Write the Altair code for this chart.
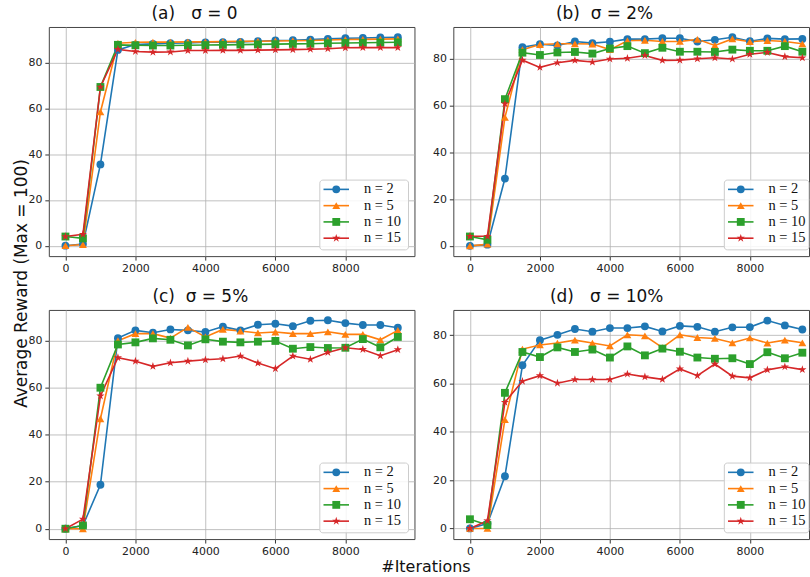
import altair as alt
import pandas as pd

iterations = list(range(0, 10000, 500))
series = ["n = 2", "n = 5", "n = 10", "n = 15"]
colors = ["#1f77b4", "#ff7f0e", "#2ca02c", "#d62728"]

a_n2 = [0, 0.7, 35.5, 85.5, 87.8, 88.1, 88.4, 88.5, 88.8, 88.9, 89.0, 89.3, 89.6, 89.7, 90.0, 90.3, 90.6, 90.7, 90.9, 91.0]
a_n5 = [0, 0.5, 58.4, 88.4, 88.8, 88.9, 88.9, 89.0, 89.0, 89.1, 89.2, 89.3, 89.4, 89.5, 89.6, 89.8, 90.0, 90.1, 90.2, 90.3]
a_n10 = [4.0, 3.2, 69.3, 87.7, 87.5, 87.4, 87.4, 87.5, 87.6, 87.7, 87.8, 87.9, 88.0, 88.1, 88.2, 88.4, 88.5, 88.6, 88.7, 88.8]
a_n15 = [4.0, 5.0, 69.3, 85.7, 84.8, 84.5, 84.6, 85.2, 85.2, 85.3, 85.3, 85.4, 85.5, 85.6, 85.8, 86.0, 86.4, 86.5, 86.5, 86.5]

b_n2 = [0, 0.5, 28.8, 85.0, 86.3, 85.8, 87.5, 86.8, 87.4, 88.5, 88.5, 88.9, 88.9, 87.5, 88.2, 89.3, 87.6, 88.8, 88.5, 88.6]
b_n5 = [0, 0.7, 55.0, 84.0, 86.2, 86.5, 86.5, 86.4, 84.0, 87.8, 88.0, 87.5, 87.5, 88.4, 85.8, 88.6, 87.4, 87.9, 87.5, 86.5]
b_n10 = [4.0, 2.6, 62.8, 82.7, 81.7, 82.8, 83.0, 82.3, 84.5, 85.5, 82.5, 84.8, 83.1, 83.1, 83.0, 84.0, 83.5, 83.5, 85.5, 83.1]
b_n15 = [4.1, 4.1, 60.8, 79.5, 76.4, 78.4, 79.4, 78.7, 80.0, 80.3, 81.5, 79.4, 79.5, 80.1, 80.5, 80.0, 82.0, 82.8, 81.0, 80.5]

c_n2 = [0, 1.4, 18.7, 81.1, 84.4, 83.4, 84.8, 84.4, 83.7, 86.0, 84.4, 86.8, 87.2, 86.2, 88.5, 88.7, 87.5, 86.7, 86.7, 85.5]
c_n5 = [0, 0, 46.8, 80.0, 83.0, 83.0, 81.1, 85.7, 81.6, 84.8, 84.1, 83.3, 83.7, 83.0, 83.0, 83.8, 82.7, 82.7, 80.4, 84.4]
c_n10 = [0, 1.4, 60.0, 78.4, 79.3, 81.0, 80.4, 78.0, 80.6, 79.6, 79.3, 79.6, 79.9, 76.6, 77.3, 76.9, 77.0, 80.7, 77.2, 81.6]
c_n15 = [0, 4.1, 56.5, 72.8, 71.3, 69.1, 70.6, 71.3, 71.9, 72.3, 73.5, 70.5, 68.1, 73.5, 72.1, 75.0, 77.0, 76.3, 73.6, 76.2]

d_n2 = [0, 2.0, 21.6, 67.5, 77.9, 80.1, 82.5, 81.4, 82.9, 82.9, 83.6, 81.5, 83.8, 83.4, 81.4, 83.2, 83.3, 86.0, 84.0, 82.3]
d_n5 = [0, 0, 45.0, 74.2, 75.9, 76.7, 77.9, 76.7, 75.5, 80.1, 79.7, 74.8, 80.1, 79.0, 78.6, 76.8, 78.8, 76.7, 77.9, 76.8]
d_n10 = [3.8, 1.4, 56.1, 73.0, 70.9, 74.9, 73.0, 74.0, 70.7, 75.3, 71.6, 74.4, 73.1, 70.7, 70.2, 70.4, 68.0, 72.9, 70.4, 72.7]
d_n15 = [0, 3.2, 52.2, 60.9, 63.2, 60.1, 61.6, 61.6, 61.6, 63.9, 62.7, 61.7, 66.0, 63.2, 68.0, 63.0, 62.3, 65.6, 66.9, 65.7]

x_ticks = [0, 2000, 4000, 6000, 8000]
y_ticks = [0, 20, 40, 60, 80]

STAR = ("M0,-1.1L0.246,-0.338L1.046,-0.34L0.398,0.129L0.647,0.89L0,0.418"
        "L-0.647,0.89L-0.398,0.129L-1.046,-0.34L-0.246,-0.338Z")
marker_shapes = ["circle", "triangle-up", "square", STAR]

legend_df = pd.DataFrame({"n": series, "idx": [0, 1, 2, 3]})
box_df = pd.DataFrame({"k": [0]})

NB = "\u00a0"


def panel(title, dx, vals, ydom, width, xmax, box_right, ytitle=None, xtitle=None):
    rows = []
    for s, arr in zip(series, vals):
        for it, v in zip(iterations, arr):
            rows.append({"iter": it, "n": s, "reward": v})
    df = pd.DataFrame(rows)

    xaxis_kw = dict(values=x_ticks, format="d", title=None, labelFontSize=11, labelFont="DejaVu Sans",
                    labelColor="#222", tickColor="#333", tickSize=4, labelPadding=2,
                    gridColor="#b0b0b0", gridWidth=0.8, domain=False)
    if xtitle:
        xaxis_kw.update(title=xtitle, titleX=378, titleY=28, titleBaseline="middle",
                        titleAlign="center", titleFontSize=16, titleFontWeight="normal",
                        titleFont="DejaVu Sans", titleColor="#111")
    yaxis_kw = dict(values=y_ticks, title=None, labelFontSize=11, labelFont="DejaVu Sans",
                    labelColor="#222", tickColor="#333", tickSize=4, labelPadding=3,
                    gridColor="#b0b0b0", gridWidth=0.8, domain=False)
    if ytitle:
        yaxis_kw.update(title=ytitle, titleX=-27, titleY=257, titleAngle=270,
                        titleBaseline="middle", titleAlign="center", titleFontSize=17,
                        titleFontWeight="normal", titleFont="DejaVu Sans", titleColor="#111")

    x = alt.X("iter:Q", scale=alt.Scale(domain=[-475, xmax], nice=False, zero=False),
              axis=alt.Axis(**xaxis_kw))
    y = alt.Y("reward:Q", scale=alt.Scale(domain=ydom, nice=False, zero=False),
              axis=alt.Axis(**yaxis_kw))
    color = alt.Color("n:N", scale=alt.Scale(domain=series, range=colors), legend=None)
    shape = alt.Shape("n:N", scale=alt.Scale(domain=series, range=marker_shapes), legend=None)

    lines = alt.Chart(df).mark_line(strokeWidth=1.6).encode(x=x, y=y, color=color)
    points = alt.Chart(df).mark_point(filled=True, opacity=1, size=62).encode(
        x=x, y=y, color=color, shape=shape)
    data_layer = alt.layer(lines, points)

    # legend (drawn as marks, positioned in pixels inside the panel)
    ly = alt.Y("idx:Q", scale=alt.Scale(domain=[0, 3], range=[163, 212]), axis=None)
    box = alt.Chart(box_df).mark_rect(
        fill="white", fillOpacity=0.85, stroke="#cccccc", strokeWidth=1, cornerRadius=3
    ).encode(x=alt.value(272), x2=alt.value(box_right), y=alt.value(153.7), y2=alt.value(223.7))
    seg = alt.Chart(legend_df).mark_rule(strokeWidth=1.6).encode(
        x=alt.value(275.7), x2=alt.value(301.3), y=ly, color=color)
    mk = alt.Chart(legend_df).mark_point(filled=True, opacity=1, size=62).encode(
        x=alt.value(288.5), y=ly, color=color, shape=shape)
    lab = alt.Chart(legend_df).mark_text(
        align="left", baseline="middle", font="Liberation Serif", fontSize=14.5, color="#111"
    ).encode(x=alt.value(316.3), y=ly, text="n:N")
    legend_layer = alt.layer(box, seg, mk, lab)

    return alt.layer(data_layer, legend_layer).resolve_scale(y="independent").properties(
        width=width, height=230,
        title=alt.Title(title, anchor="start", frame="group", dx=dx, offset=4, fontSize=17,
                        font="DejaVu Sans", fontWeight="normal", color="#111"),
    )


pa = panel("(a)" + NB * 3 + "σ = 0", 103, [a_n2, a_n5, a_n10, a_n15], [-4.55, 95.5], 367, 9975, 361,
           ytitle="Average Reward (Max = 100)")
pb = panel("(b)" + NB * 2 + "σ = 2%", 103, [b_n2, b_n5, b_n10, b_n15], [-4.4, 93.7], 357, 9690, 357)
pc = panel("(c)" + NB * 2 + "σ = 5%", 104, [c_n2, c_n5, c_n10, c_n15], [-4.4, 93.1], 367, 9975, 361,
           xtitle="#Iterations")
pd_ = panel("(d)" + NB * 3 + "σ = 10%", 97, [d_n2, d_n5, d_n10, d_n15], [-4.4, 90.4], 357, 9690, 357)

chart = alt.concat(pa, pb, pc, pd_, columns=2, spacing={"row": 54, "column": 39},
                   bounds="flush").properties(
    padding={"left": 12, "top": 3, "right": 0, "bottom": 2},
    background="white",
).configure_view(stroke="#444", strokeWidth=1)

chart.save("out.html", embed_options={"renderer": "svg", "actions": False})
